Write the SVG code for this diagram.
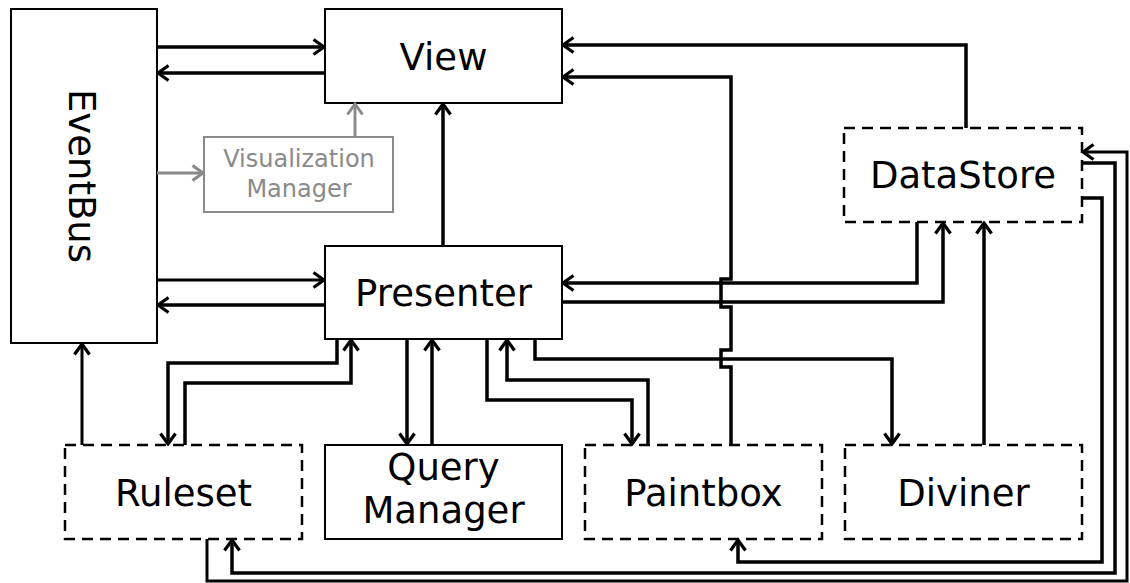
<svg xmlns="http://www.w3.org/2000/svg" width="1130" height="583" viewBox="0 0 1130 583">
  <style>
    .box { fill: #fff; stroke: #000; stroke-width: 2; }
    .dash { fill: #fff; stroke: #000; stroke-width: 2.5; stroke-dasharray: 11 7; }
    .soft { fill: #fff; stroke: #8a8a8a; stroke-width: 2; }
    .lbl { font-family: "DejaVu Sans", Verdana, sans-serif; font-size: 37px; fill: #000; text-anchor: middle; }
    .lbl-soft { font-family: "DejaVu Sans", Verdana, sans-serif; font-size: 24px; fill: #8a8a8a; text-anchor: middle; }
    .wire { fill: none; stroke: #000; stroke-width: 3.5; marker-end: url(#arr); }
    .wire-thin { stroke-width: 3; }
    .wire-soft { fill: none; stroke: #8a8a8a; stroke-width: 3; marker-end: url(#arr-soft); }
  </style>
  <defs>
    <marker id="arr" markerUnits="userSpaceOnUse" viewBox="-14 -10 16 20" markerWidth="16" markerHeight="20" refX="0" refY="0" orient="auto">
      <path d="M-10.5,-7.5 L0,0 L-10.5,7.5" fill="none" stroke="#000" stroke-width="3.2"/>
    </marker>
    <marker id="arr-soft" markerUnits="userSpaceOnUse" viewBox="-14 -10 16 20" markerWidth="16" markerHeight="20" refX="0" refY="0" orient="auto">
      <path d="M-10.5,-7.5 L0,0 L-10.5,7.5" fill="none" stroke="#8a8a8a" stroke-width="3"/>
    </marker>
  </defs>

  <rect width="1130" height="583" fill="#fff"/>

  <!-- components -->
  <g id="eventbus">
    <rect class="box" x="11" y="9" width="146" height="334"/>
    <text class="lbl" transform="translate(82,176) rotate(90)" dy="0.36em">EventBus</text>
  </g>
  <g id="view">
    <rect class="box" x="325" y="9" width="237" height="94"/>
    <text class="lbl" x="443.5" y="70">View</text>
  </g>
  <g id="visualization-manager">
    <rect class="soft" x="204" y="137" width="189" height="75"/>
    <text class="lbl-soft" x="299" y="167">Visualization</text>
    <text class="lbl-soft" x="299" y="197">Manager</text>
  </g>
  <g id="presenter">
    <rect class="box" x="325" y="246" width="237" height="93"/>
    <text class="lbl" x="443.5" y="306">Presenter</text>
  </g>
  <g id="datastore">
    <rect class="dash" x="844" y="128" width="238" height="94"/>
    <text class="lbl" x="963" y="188">DataStore</text>
  </g>
  <g id="ruleset">
    <rect class="dash" x="65" y="445" width="237" height="94"/>
    <text class="lbl" x="183.5" y="506">Ruleset</text>
  </g>
  <g id="query-manager">
    <rect class="box" x="325" y="445" width="237" height="94"/>
    <text class="lbl" x="443.5" y="480">Query</text>
    <text class="lbl" x="443.5" y="523">Manager</text>
  </g>
  <g id="paintbox">
    <rect class="dash" x="585" y="445" width="237" height="94"/>
    <text class="lbl" x="703.5" y="506">Paintbox</text>
  </g>
  <g id="diviner">
    <rect class="dash" x="845" y="445" width="237" height="94"/>
    <text class="lbl" x="963.5" y="506">Diviner</text>
  </g>

  <!-- connectors -->
  <g id="connectors">
    <path class="wire" d="M157,47 H324"/>
    <path class="wire" d="M325,73 H158"/>
    <path class="wire" d="M443,246 V104"/>
    <path class="wire wire-thin" d="M157,280 H324"/>
    <path class="wire" d="M325,305 H158"/>
    <path class="wire wire-thin" d="M82,445 V344"/>

    <path class="wire" d="M337,339 V363 H168 V444"/>
    <path class="wire" d="M185,445 V383 H351 V340"/>
    <path class="wire" d="M407,339 V444"/>
    <path class="wire" d="M432,445 V340"/>
    <path class="wire" d="M487,339 V400 H632 V444"/>
    <path class="wire" d="M648,445 V380 H507 V340"/>
    <path class="wire" d="M535,339 V359 H892 V444"/>

    <!-- Paintbox to View, stepping aside where it crosses the horizontal runs -->
    <path class="wire" d="M731,445 V367 H721 V350 H731 V307 H721 V279 H731 V77 H563"/>

    <path class="wire" d="M966,128 V45 H563"/>
    <path class="wire" d="M917,222 V283 H563"/>
    <path class="wire" d="M562,302 H943 V223"/>
    <path class="wire" d="M984,445 V223"/>

    <path class="wire" d="M1082,198 H1102 V562 H738 V540"/>
    <path class="wire" d="M1082,163 H1115 V573 H232 V540"/>
    <path class="wire wire-thin" d="M207,539 V581 H1127 V152 H1083"/>

    <path class="wire-soft" d="M157,173 H203"/>
    <path class="wire-soft" d="M355,137 V104"/>
  </g>
</svg>
